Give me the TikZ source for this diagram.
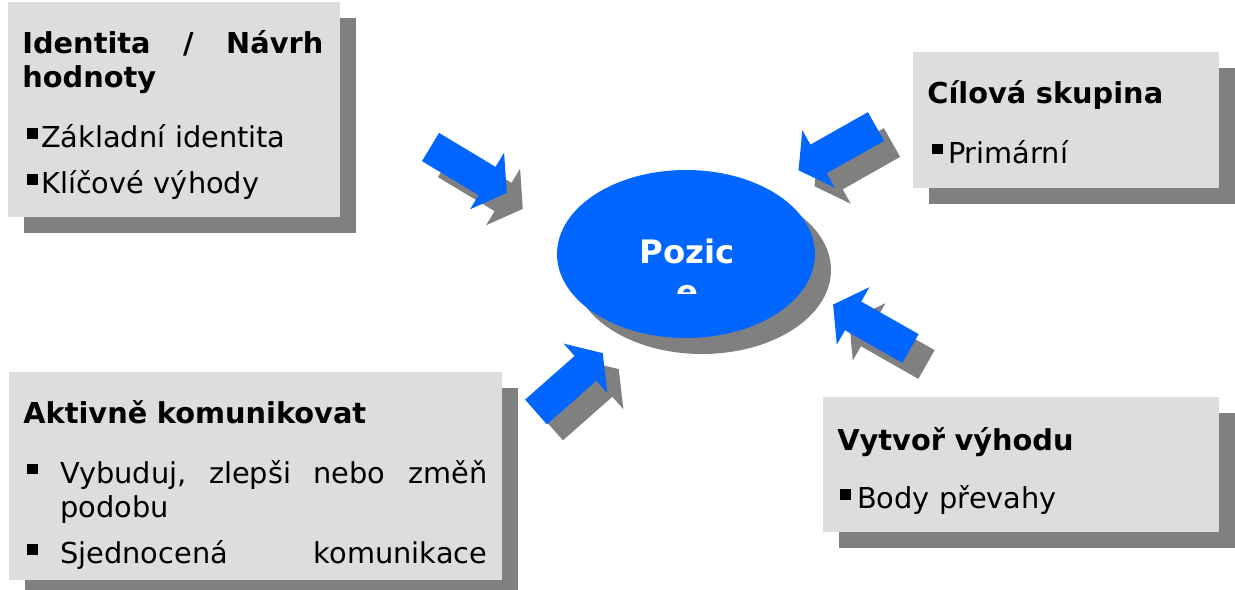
\documentclass[tikz,border=0pt]{standalone}
\usepackage{fontspec}
\setmainfont{DejaVu Sans}
\usetikzlibrary{shapes.geometric,shadows}
\definecolor{PanelSeda}{RGB}{221,221,221}
\definecolor{StinSeda}{RGB}{128,128,128}
\definecolor{ModraPozice}{RGB}{0,102,255}
\newcommand{\sqbul}{\rule[5pt]{6.2pt}{6.2pt}}
\tikzset{
  stin/.style={drop shadow={shadow xshift=0.32cm, shadow yshift=-0.32cm,
    fill=StinSeda, opacity=1}},
  panelbox/.style={rectangle, fill=PanelSeda, draw=none, inner sep=0pt, stin},
  paneltext/.style={anchor=base west, inner sep=0pt, align=left, text width=#1,
    font=\fontsize{16.4}{19.6}\selectfont},
  paneltext/.default=6cm,
  poziceovl/.style={ellipse, fill=ModraPozice, draw=none, minimum width=5.16cm,
    minimum height=3.36cm, inner sep=0pt, stin},
  pozicetext/.style={text=white, align=center, text width=4cm, inner sep=0pt,
    anchor=base, font=\fontsize{18.4}{23}\selectfont\bfseries},
  % blokova sipka: ocas v pocatku, hrot ve smeru osy x
  pics/blokarr/.style={code={
    \fill[ModraPozice, stin] (0,16.5) -- (66,16.5) -- (66,33) -- (89,0)
      -- (66,-33) -- (66,-16.5) -- (0,-16.5) -- cycle;
  }},
}
\begin{document}
\begin{tikzpicture}[x=0.02cm, y=-0.02cm]
  \useasboundingbox (0,0) rectangle (1235,589);
  % panely
  \node[panelbox, minimum width=6.64cm, minimum height=4.3cm] (identita) at (174,109.5) {};
  \node[panelbox, minimum width=6.12cm, minimum height=2.72cm] (skupina) at (1066,120) {};
  \node[panelbox, minimum width=9.86cm, minimum height=4.16cm] (komunikace) at (255.5,476) {};
  \node[panelbox, minimum width=7.92cm, minimum height=2.7cm] (vyhoda) at (1021,464.5) {};
  \node[poziceovl] (pozice) at (686,254) {};
  % sipky
  \pic[rotate=-31] (sipkaIdentita) at (430.5,147) {blokarr};
  \pic[rotate=209.5] (sipkaSkupina) at (876,126.5) {blokarr};
  \pic[rotate=41.4] (sipkaKomunikace) at (536,412) {blokarr};
  \pic[rotate=150.4] (sipkaVyhoda) at (910.5,348.5) {blokarr};
  % texty
  \node[paneltext=6.02cm] (identitaText) at (22,53) {%
    \textbf{Identita\hfill/\hfill Návrh\break hodnoty}\par\vspace{14.7pt}
    \hspace*{2.8pt}\sqbul\hspace{1.7pt}Základní identita\par\vspace{6.5pt}
    \hspace*{2.8pt}\sqbul\hspace{1.7pt}Klíčové výhody};
  \node[paneltext=5.8cm] (skupinaText) at (927,103) {%
    \textbf{Cílová skupina}\par\vspace{14.7pt}
    \hspace*{2.8pt}\sqbul\hspace{2.8pt}Primární};
  \node[paneltext=9.28cm] (komunikaceText) at (23,423) {%
    \textbf{Aktivně komunikovat}\par\vspace{14.7pt}
    \hangindent=21pt\hangafter=1\makebox[21pt][l]{\hspace*{2.3pt}\sqbul}%
    Vybuduj,\hfill zlepši\hfill nebo\hfill změň\break podobu\par\vspace{6.5pt}
    \makebox[21pt][l]{\hspace*{2.3pt}\sqbul}Sjednocená\hfill komunikace};
  \node[paneltext=7.2cm] (vyhodaText) at (837,450) {%
    \textbf{Vytvoř výhodu}\par\vspace{13.8pt}
    \hspace*{1.7pt}\sqbul\hspace{3.4pt}Body převahy};
  \begin{scope}
    \clip (540,150) rectangle (830,293);
    \node[pozicetext] (poziceText) at (687,263) {Pozic\\e};
  \end{scope}
\end{tikzpicture}
\end{document}
